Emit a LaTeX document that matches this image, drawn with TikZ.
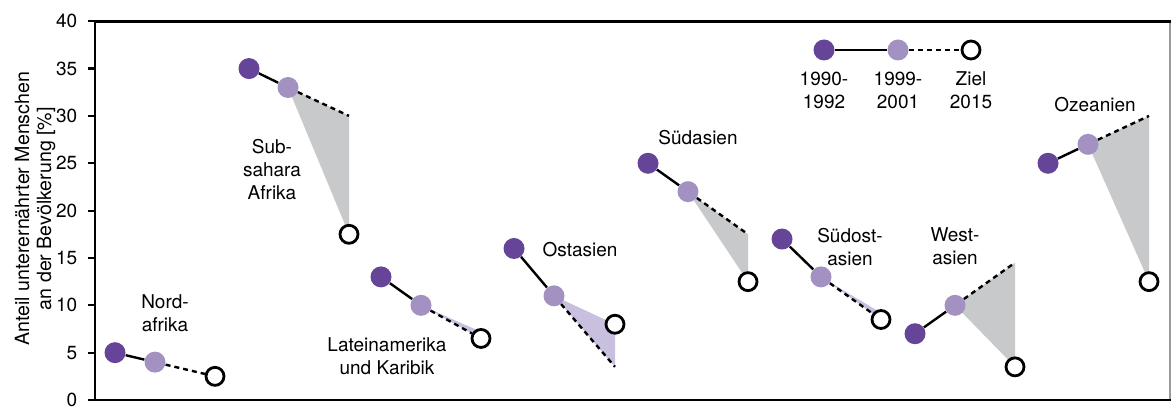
\documentclass[tikz,border=0pt]{standalone}
\usepackage{fontspec}
\setmainfont{TeX Gyre Heros}
\usepackage{tikz}
\usetikzlibrary{arrows}

\definecolor{lila90}{HTML}{664599}
\definecolor{lila99}{HTML}{A391C2}
\definecolor{lilaflaeche}{HTML}{C9BFDF}
\definecolor{grauflaeche}{HTML}{C8C9CB}
\pgfdeclarelayer{bg}
\pgfsetlayers{bg,main}

\tikzset{
  p90/.style={circle, fill=lila90, minimum size=10.5pt, inner sep=0pt},
  p99/.style={circle, fill=lila99, minimum size=10.5pt, inner sep=0pt},
  ziel/.style={circle, draw=black, line width=1.4pt, fill=white, minimum size=9pt, inner sep=0pt},
  region/.style={align=center, font=\fontsize{9.5}{11.5}\selectfont},
  trend/.style={line width=1.2pt},
  prognose/.style={line width=1.2pt, dash pattern=on 2.5pt off 2pt}
}

\begin{document}
\begin{tikzpicture}[x=0.5pt,y=4.735pt]
\useasboundingbox (-95,-0.634) rectangle (1077,42.24);

% Achsen und Rahmen
\draw[gray!80, line width=0.8pt] (1075,0) -- (1075,40);
\draw[line width=1.4pt] (1076,40) -- (0,40) -- (0,0) -- (1076,0);
\foreach \v in {0,5,...,40}
  \draw[line width=1.1pt] (-7,\v) -- (0,\v) node[left=5pt, font=\fontsize{9.5}{11.5}\selectfont] {\v};
\node[region, rotate=90, font=\fontsize{9.8}{11}\selectfont] (titel) at (-60,20.2) {Anteil unterernährter Menschen\\an der Bevölkerung [\%]};

% Nordafrika
\node[p90]  (NA90) at (20,5)    {};
\node[p99]  (NA99) at (60,4)    {};
\node[ziel] (NAZ)  at (120,2.5) {};
\node[region] (NAtxt) at (70,9.2) {Nord-\\afrika};

% Subsahara-Afrika
\node[p90]  (SS90) at (154,35)   {};
\node[p99]  (SS99) at (193,33)   {};
\coordinate (SSx)  at (254,30);
\node[ziel] (SSZ)  at (254,17.5) {};
\node[region] (SStxt) at (177,24.3) {Sub-\\sahara\\Afrika};

% Lateinamerika
\node[p90]  (LA90) at (286,13)   {};
\node[p99]  (LA99) at (326,10)   {};
\coordinate (LAx)  at (386,7.2);
\node[ziel] (LAZ)  at (386,6.5)  {};
\node[region] (LAtxt) at (292,4.65) {Lateinamerika\\und Karibik};

% Ostasien
\node[p90]  (OA90) at (419,16)   {};
\node[p99]  (OA99) at (459,11)   {};
\coordinate (OAx)  at (520,3.5);
\node[ziel] (OAZ)  at (520,8)    {};
\node[region] (OAtxt) at (485,15.9) {Ostasien};

% Suedasien
\node[p90]  (SA90) at (553,25)   {};
\node[p99]  (SA99) at (593,22)   {};
\coordinate (SAx)  at (653,17.5);
\node[ziel] (SAZ)  at (653,12.5) {};
\node[region] (SAtxt) at (603,27.7) {Südasien};

% Suedostasien
\node[p90]  (SO90) at (687,17)   {};
\node[p99]  (SO99) at (726,13)   {};
\coordinate (SOx)  at (786,9.2);
\node[ziel] (SOZ)  at (786,8.5)  {};
\node[region] (SOtxt) at (755,16.2) {Südost-\\asien};

% Westasien
\node[p90]  (WA90) at (820,7)    {};
\node[p99]  (WA99) at (860,10)   {};
\coordinate (WAx)  at (920,14.5);
\node[ziel] (WAZ)  at (920,3.5)  {};
\node[region] (WAtxt) at (860,16.2) {West-\\asien};

% Ozeanien
\node[p90]  (OZ90) at (953,25)   {};
\node[p99]  (OZ99) at (993,27)   {};
\coordinate (OZx)  at (1054,30);
\node[ziel] (OZZ)  at (1054,12.5) {};
\node[region] (OZtxt) at (1000,31.15) {Ozeanien};

% Legende
\node[p90]  (L90) at (729,36.96) {};
\node[p99]  (L99) at (803,36.96) {};
\node[ziel] (LZ)  at (876,36.96) {};
\node[region] (L90txt) at (729,32.7) {1990-\\1992};
\node[region] (L99txt) at (803,32.7) {1999-\\2001};
\node[region] (LZtxt)  at (876,32.7) {Ziel\\2015};

% Abweichung vom Ziel
\begin{pgfonlayer}{bg}
  \fill[grauflaeche] (SS99.center) -- (SSx) -- (SSZ.center) -- cycle;
  \fill[grauflaeche] (SA99.center) -- (SAx) -- (SAZ.center) -- cycle;
  \fill[grauflaeche] (WA99.center) -- (WAx) -- (WAZ.center) -- cycle;
  \fill[grauflaeche] (OZ99.center) -- (OZx) -- (OZZ.center) -- cycle;
  \fill[lilaflaeche] (LA99.center) -- (LAx) -- (LAZ.center) -- cycle;
  \fill[lilaflaeche] (OA99.center) -- (OAZ.center) -- (OAx) -- cycle;
  \fill[lilaflaeche] (SO99.center) -- (SOx) -- (SOZ.center) -- cycle;
\end{pgfonlayer}

\path[trend]
    (NA90) edge (NA99)
    (SS90) edge (SS99)
    (LA90) edge (LA99)
    (OA90) edge (OA99)
    (SA90) edge (SA99)
    (SO90) edge (SO99)
    (WA90) edge (WA99)
    (OZ90) edge (OZ99)
    (L90)  edge (L99);

\path[prognose]
    (NA99) edge (NAZ)
    (SS99) edge (SSx)
    (LA99) edge (LAZ)
    (OA99) edge (OAx)
    (SA99) edge (SAx)
    (SO99) edge (SOZ)
    (WA99) edge (WAx)
    (OZ99) edge (OZx)
    (L99)  edge (LZ);
\end{tikzpicture}
\end{document}
